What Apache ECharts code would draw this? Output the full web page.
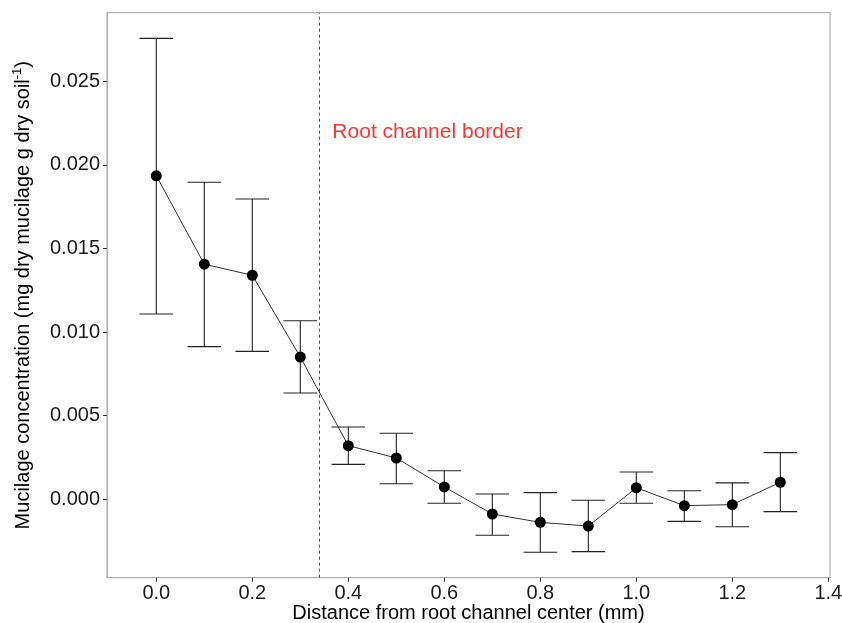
<!DOCTYPE html>
<html>
<head>
<meta charset="utf-8">
<script src="https://cdn.jsdelivr.net/npm/echarts@6/dist/echarts.min.js"></script>
<style>html,body{margin:0;padding:0;background:#fff;}#c{width:842px;height:623px;}</style>
</head>
<body>
<div id="c"></div>
<script>
const distance = [0.0, 0.1, 0.2, 0.3, 0.4, 0.5, 0.6, 0.7, 0.8, 0.9, 1.0, 1.1, 1.2, 1.3];
const meanConc = [0.01935, 0.01406, 0.01340, 0.00851, 0.00321, 0.00247, 0.00074, -0.00088, -0.00138, -0.00160, 0.00069, -0.00038, -0.00032, 0.00102];
const upperConc = [0.02757, 0.01896, 0.01796, 0.01068, 0.00432, 0.00395, 0.00171, 0.00032, 0.00040, -0.00006, 0.00163, 0.00051, 0.00098, 0.00279];
const lowerConc = [0.01108, 0.00913, 0.00885, 0.00636, 0.00209, 0.00093, -0.00024, -0.00215, -0.00317, -0.00313, -0.00024, -0.00132, -0.00164, -0.00074];
const xTicks = [0.0, 0.2, 0.4, 0.6, 0.8, 1.0, 1.2, 1.4];
const yTicks = [0.000, 0.005, 0.010, 0.015, 0.020, 0.025];
const xRange = [-0.1027, 1.4035];
const yRange = [-0.004689, 0.029103];
const borderX = 0.34;
const annotation = {x: 0.565, y: 0.02197, text: 'Root channel border'};

const FONT = 'Liberation Sans, Arial, sans-serif';
const chart = echarts.init(document.getElementById('c'), null, {renderer: 'canvas'});

const lineData = distance.map((d, i) => [d, meanConc[i]]);
const errData = distance.map((d, i) => [d, lowerConc[i], upperConc[i]]);

chart.setOption({
  animation: false,
  backgroundColor: '#ffffff',
  grid: {left: 107, right: 12, top: 12.7, bottom: 45.3, containLabel: false, outerBoundsMode: 'none',
         show: true, borderColor: '#b3b3b3', borderWidth: 1.2, backgroundColor: 'transparent'},
  xAxis: {
    type: 'value', min: xRange[0], max: xRange[1],
    name: 'Distance from root channel center (mm)',
    nameLocation: 'middle', nameGap: 26, nameMoveOverlap: false,
    nameTextStyle: {fontFamily: FONT, fontSize: 20, color: '#000'},
    axisLine: {show: true, onZero: false, lineStyle: {color: '#b3b3b3', width: 1.2}},
    axisTick: {show: true, length: 4, customValues: xTicks, lineStyle: {color: '#333', width: 1}},
    axisLabel: {customValues: xTicks, margin: 6, fontFamily: FONT, fontSize: 20, color: '#1a1a1a', formatter: v => v.toFixed(1)},
    splitLine: {show: false}
  },
  yAxis: {
    type: 'value', min: yRange[0], max: yRange[1],
    name: '{a|Mucilage concentration (mg dry mucilage g dry soil}{s|-1}{a|)}',
    nameLocation: 'middle', nameGap: 74, nameMoveOverlap: false,
    nameTextStyle: {fontFamily: FONT, fontSize: 20, color: '#000',
      rich: {a: {fontFamily: FONT, fontSize: 20, color: '#000', verticalAlign: 'bottom', lineHeight: 22},
             s: {fontFamily: FONT, fontSize: 13, color: '#000', verticalAlign: 'top', lineHeight: 22}}},
    axisLine: {show: true, onZero: false, lineStyle: {color: '#b3b3b3', width: 1.2}},
    axisTick: {show: true, length: 4, customValues: yTicks, lineStyle: {color: '#333', width: 1}},
    axisLabel: {customValues: yTicks, margin: 7, fontFamily: FONT, fontSize: 20, color: '#1a1a1a', formatter: v => v.toFixed(3)},
    splitLine: {show: false}
  },
  series: [
    {
      type: 'custom',
      data: [[borderX]],
      z: 1,
      silent: true,
      renderItem: function (params, api) {
        const a = api.coord([api.value(0), yRange[0]]);
        const b = api.coord([api.value(0), yRange[1]]);
        return {type: 'line', shape: {x1: a[0], y1: a[1], x2: b[0], y2: b[1]},
                style: {stroke: '#ff0000', lineWidth: 1, lineDash: [3, 3]}};
      }
    },
    {
      type: 'custom',
      data: errData,
      z: 3,
      renderItem: function (params, api) {
        const x = api.value(0);
        const lo = api.coord([x, api.value(1)]);
        const hi = api.coord([x, api.value(2)]);
        const hw = api.size([0.035, 0])[0];
        const style = {stroke: '#222', lineWidth: 1.1};
        return {type: 'group', children: [
          {type: 'line', shape: {x1: lo[0], y1: lo[1], x2: hi[0], y2: hi[1]}, style: style},
          {type: 'line', shape: {x1: lo[0] - hw, y1: lo[1], x2: lo[0] + hw, y2: lo[1]}, style: style},
          {type: 'line', shape: {x1: hi[0] - hw, y1: hi[1], x2: hi[0] + hw, y2: hi[1]}, style: style}
        ]};
      }
    },
    {
      type: 'line',
      data: lineData,
      z: 4,
      symbol: 'circle', symbolSize: 11,
      itemStyle: {color: '#000'},
      lineStyle: {color: '#333', width: 1}
    },
    {
      type: 'scatter',
      data: [[annotation.x, annotation.y]],
      symbolSize: 0,
      z: 5,
      label: {show: true, position: 'inside', formatter: annotation.text, fontFamily: FONT, fontSize: 21, color: '#ff0000'}
    }
  ]
});
</script>
</body>
</html>
